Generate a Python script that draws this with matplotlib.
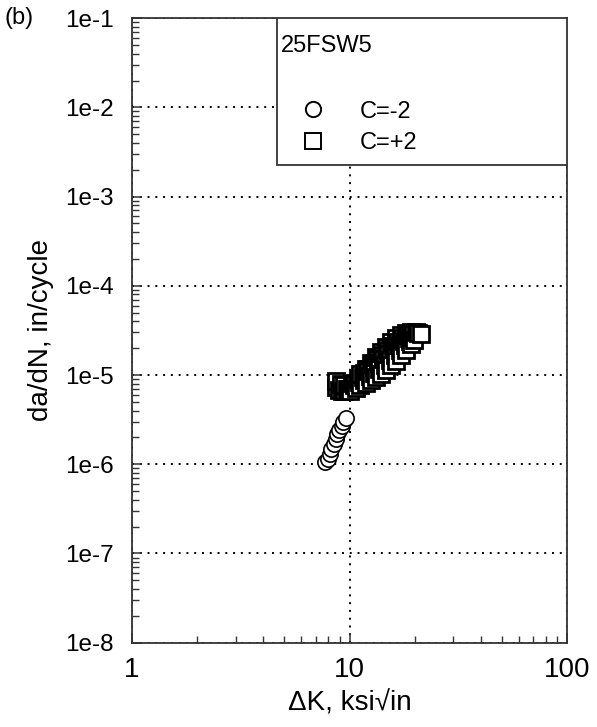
import numpy as np
import matplotlib
matplotlib.use('Agg')
import matplotlib.pyplot as plt
from matplotlib.patches import Rectangle
from matplotlib.ticker import FuncFormatter, LogLocator, NullFormatter

plt.rcParams['font.family'] = ['Liberation Sans', 'DejaVu Sans']

# crack growth data, 25FSW5
dk_neg = [7.75, 7.92, 8.09, 8.26, 8.44, 8.62, 8.80, 8.99, 9.19, 9.38, 9.59]
dadn_neg = [1.05e-6, 1.14e-6, 1.29e-6, 1.47e-6, 1.67e-6, 1.90e-6, 2.16e-6,
            2.40e-6, 2.65e-6, 2.94e-6, 3.26e-6]

dk_pos = [9.48, 9.19, 8.90, 8.71, 9.48, 9.69, 9.09, 8.71,
          10.1, 10.3, 10.7, 10.9, 11.2, 11.2, 11.5, 11.9, 11.9, 12.2, 12.5,
          12.5, 12.9, 13.2, 13.2, 13.6, 13.9, 13.9, 14.3, 14.7, 14.7, 15.1,
          15.5, 15.5, 16.0, 16.3, 16.3, 16.8, 17.2, 17.2, 17.7, 18.1, 18.1,
          18.7, 19.1, 19.1, 19.7, 20.1,
          9.79, 10.5, 11.1, 11.7, 12.4, 13.0, 13.7, 14.5, 15.3, 16.1, 17.0,
          17.9, 18.9, 19.5,
          11.6, 12.1, 12.8, 13.5, 14.2, 15.0, 15.8, 16.6, 17.5, 18.5, 19.5,
          20.6, 21.2]
dadn_pos = [6.70e-6, 6.70e-6, 6.87e-6, 7.42e-6, 7.81e-6, 7.05e-6, 8.01e-6,
            8.66e-6,
            6.70e-6, 8.23e-6, 7.23e-6, 9.12e-6, 7.81e-6, 1.04e-5, 9.60e-6,
            8.23e-6, 1.18e-5, 1.12e-5, 8.89e-6, 1.38e-5, 1.24e-5, 9.60e-6,
            1.60e-5, 1.38e-5, 1.04e-5, 1.82e-5, 1.52e-5, 1.15e-5, 2.07e-5,
            1.73e-5, 1.31e-5, 2.36e-5, 1.97e-5, 1.45e-5, 2.61e-5, 2.18e-5,
            1.69e-5, 2.82e-5, 2.42e-5, 1.92e-5, 2.97e-5, 2.61e-5, 2.24e-5,
            3.05e-5, 2.48e-5, 3.05e-5,
            7.05e-6, 7.81e-6, 8.44e-6, 8.89e-6, 9.85e-6, 1.06e-5, 1.18e-5,
            1.31e-5, 1.49e-5, 1.69e-5, 1.92e-5, 2.18e-5, 2.42e-5, 2.68e-5,
            1.06e-5, 1.18e-5, 1.34e-5, 1.52e-5, 1.69e-5, 1.92e-5, 2.13e-5,
            2.36e-5, 2.61e-5, 2.82e-5, 2.90e-5, 2.97e-5, 2.90e-5]

labels = ['C=-2', 'C=+2']
specimen = '25FSW5'

# plot in order of increasing dK, as recorded during the test
order = np.argsort(dk_pos, kind='stable')
dk_pos = np.array(dk_pos)[order]
dadn_pos = np.array(dadn_pos)[order]

fig = plt.figure(figsize=(5.97, 7.27), dpi=100)
ax = fig.add_axes([0.221, 0.116, 0.729, 0.859])
ax.set_xscale('log')
ax.set_yscale('log')
ax.set_xlim(1, 100)
ax.set_ylim(1e-8, 1e-1)

ax.plot(dk_neg, dadn_neg, 'o', ms=11, mfc='white', mec='black', mew=1.2,
        label=labels[0], zorder=3)
ax.plot(dk_pos, dadn_pos, 's', ms=11, mfc='white', mec='black', mew=2.0,
        label=labels[1], zorder=3)

ax.grid(True, which='major', color='black', linestyle=(0, (1, 3)), lw=1.4)
ax.set_axisbelow(True)

ax.xaxis.set_major_locator(LogLocator(base=10, numticks=10))
ax.xaxis.set_minor_locator(LogLocator(base=10, subs=np.arange(2, 10), numticks=10))
ax.yaxis.set_major_locator(LogLocator(base=10, numticks=10))
ax.yaxis.set_minor_locator(LogLocator(base=10, subs=np.arange(2, 10), numticks=10))
ax.xaxis.set_major_formatter(FuncFormatter(lambda v, p: '%d' % round(v)))
ax.yaxis.set_major_formatter(
    FuncFormatter(lambda v, p: '1e%d' % round(np.log10(v))))
ax.xaxis.set_minor_formatter(NullFormatter())
ax.yaxis.set_minor_formatter(NullFormatter())
ax.tick_params(which='both', direction='in', top=False, right=False,
               color='#333333')
ax.tick_params(axis='y', labelsize=17.5, pad=13)
ax.tick_params(axis='x', labelsize=20, pad=10)
ax.tick_params(which='major', length=7, width=1.1)
ax.tick_params(which='minor', length=5, width=1.0)
for s in ax.spines.values():
    s.set_linewidth(1.3)
    s.set_color('#333333')

ax.set_xlabel('ΔK, ksi√in', fontsize=20, labelpad=6)
ax.set_ylabel('da/dN, in/cycle', fontsize=20, labelpad=8)

# legend box
ax.add_patch(Rectangle((0.333, 0.765), 0.667, 0.235, transform=ax.transAxes,
                       facecolor='white', edgecolor='#333333', lw=1.3,
                       zorder=4))
ax.text(0.342, 0.955, specimen, transform=ax.transAxes, fontsize=17,
        ha='left', va='center', zorder=5)
leg = ax.legend(loc='upper left', bbox_to_anchor=(0.394, 0.868),
                frameon=False, fontsize=17, numpoints=1, borderpad=0,
                borderaxespad=0, handlelength=0.8, handletextpad=1.59,
                labelspacing=0.4)
leg.set_zorder(5)
for h in leg.legend_handles:
    h.set_markeredgewidth(1.4)

fig.text(0.008, 0.975, '(b)', fontsize=17, ha='left', va='center')

fig.savefig('out.png', dpi=100)
